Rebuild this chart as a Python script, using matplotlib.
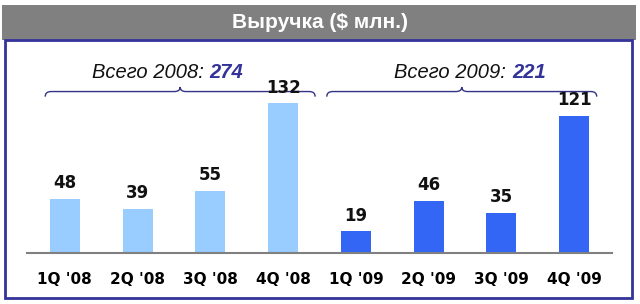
import matplotlib.pyplot as plt
from matplotlib.patches import Rectangle
from matplotlib.path import Path
from matplotlib.patches import PathPatch

quarters = ["1Q '08", "2Q '08", "3Q '08", "4Q '08", "1Q '09", "2Q '09", "3Q '09", "4Q '09"]
revenue = [48, 39, 55, 132, 19, 46, 35, 121]
bar_colors = ["#99ccff"] * 4 + ["#3366f5"] * 4
groups = ["2008", "2009"]
totals = [274, 221]
group_idx = [(0, 3), (4, 7)]

W, H = 640, 304
fig = plt.figure(figsize=(W / 100, H / 100), dpi=100)
fig.patch.set_facecolor("white")

def fx(px):
    return px / W

def fy(py):
    return 1 - py / H

# title bar and frame
fig.patches.append(Rectangle((fx(2), fy(40)), fx(634), 35 / H, transform=fig.transFigure,
                             facecolor="#808080", edgecolor="none"))
fig.text(fx(320), fy(22), "Выручка ($ млн.)", color="white", fontsize=15, fontweight="bold",
         ha="center", va="center", family="Liberation Sans")
fig.patches.append(Rectangle((fx(5), fy(298)), fx(627), 258 / H, transform=fig.transFigure,
                             facecolor="none", edgecolor="#333399", lw=2))

ax = fig.add_axes([fx(27), fy(253), fx(585), 213 / H])
x = list(range(len(quarters)))
ax.bar(x, revenue, width=0.41, color=bar_colors)
ax.set_xlim(-0.52, 7.52)
ax.set_ylim(0, 188)
for s in ["top", "right", "left"]:
    ax.spines[s].set_visible(False)
ax.spines["bottom"].set_color("#808080")
ax.spines["bottom"].set_linewidth(1.5)
ax.set_yticks([])
ax.set_xticks(x)
ax.set_xticklabels(quarters, fontsize=11, fontweight="bold", family="DejaVu Sans")
ax.tick_params(axis="x", length=0, pad=14)
ax.patch.set_alpha(0)

for xi, v in zip(x, revenue):
    ax.annotate(str(v), (xi, v), xytext=(0, 5), textcoords="offset points",
                ha="center", va="bottom", fontsize=12, fontweight="bold", color="#111111")

# braces with totals
brace_pad = [(0.27, 0.44), (0.40, 0.31)]
text_shift = [0.40, 0.69]
for (a, b), (pl, pr), sh, g, t in zip(group_idx, brace_pad, text_shift, groups, totals):
    x0, x1 = a - pl, b + pr
    xm = (x0 + x1) / 2
    yb, ym, yt = 138, 142.5, 146.5
    r = 0.08
    verts = [(x0, yb), (x0, ym), (x0 + r, ym),
             (xm - r, ym), (xm, ym), (xm, yt),
             (xm, ym), (xm + r, ym),
             (x1 - r, ym), (x1, ym), (x1, yb)]
    codes = [Path.MOVETO, Path.CURVE3, Path.CURVE3,
             Path.LINETO, Path.CURVE3, Path.CURVE3,
             Path.CURVE3, Path.CURVE3,
             Path.LINETO, Path.CURVE3, Path.CURVE3]
    ax.add_patch(PathPatch(Path(verts, codes), facecolor="none", edgecolor="#333388",
                           lw=1, clip_on=False))
    xs = xm + sh
    ax.text(xs, 159, "Всего " + g + ": ", ha="right", va="center", fontsize=14.5,
            style="italic", color="#111111", family="Liberation Sans")
    ax.text(xs, 159, str(t), ha="left", va="center", fontsize=14.5, style="italic",
            fontweight="bold", color="#333399", family="Liberation Sans")

fig.savefig("out.png", dpi=100)
